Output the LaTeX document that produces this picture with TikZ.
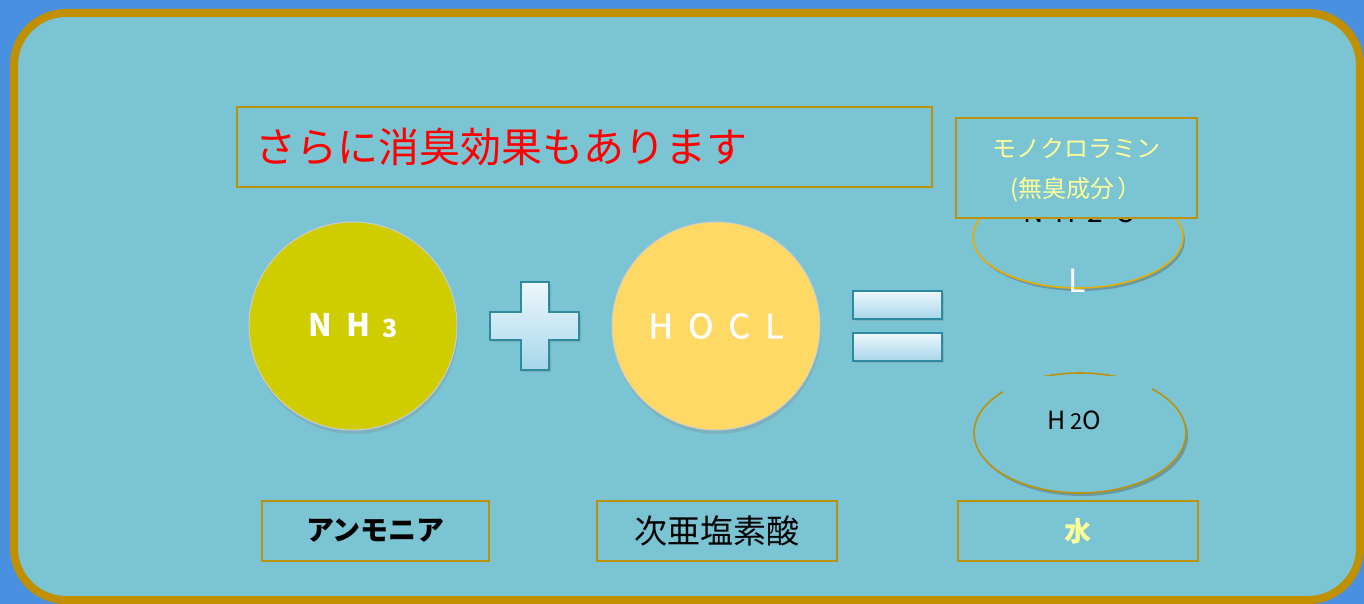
\documentclass[tikz,border=0pt]{standalone}
\usepackage{fontspec}
\setmainfont{Noto Sans CJK JP}
\newfontfamily\semibold[FakeBold=1.2]{Noto Sans CJK JP}
\usetikzlibrary{shadows,shapes.geometric}
\definecolor{outerblue}{HTML}{4A90E0}
\definecolor{panelfill}{HTML}{7AC4D4}
\definecolor{panelborder}{HTML}{C09000}
\definecolor{boxborder}{HTML}{BC920C}
\definecolor{nhfill}{HTML}{CFCC00}
\definecolor{hoclfill}{HTML}{FFD966}
\definecolor{ellline}{HTML}{E6AE00}
\definecolor{paleyellow}{HTML}{FFFF99}
\definecolor{symborder}{HTML}{2E8A9E}
\definecolor{symtop}{HTML}{EEF8FC}
\definecolor{symbot}{HTML}{A6D6EA}
\tikzset{
  labelbox/.style={draw=boxborder, line width=2pt, fill=panelfill, inner sep=0pt},
  molecule/.style={circle, fill=#1, draw=black!20, line width=1pt, minimum size=208pt, inner sep=0pt,
    drop shadow={opacity=0.25, shadow xshift=1pt, shadow yshift=-4pt},
    text=white},
  oval/.style={ellipse, draw=#1, fill=panelfill, line width=1.6pt,
    drop shadow={opacity=0.35, shadow xshift=2pt, shadow yshift=-3pt, fill=black!70}},
  symbol/.style={draw=symborder, line width=1.8pt, top color=symtop, bottom color=symbot,
    drop shadow={opacity=0.3, shadow xshift=2pt, shadow yshift=-2pt}},
}
\begin{document}
\begin{tikzpicture}[x=1pt,y=-1pt]
\useasboundingbox (0,0) rectangle (1364,604);
\fill[outerblue] (0,0) rectangle (1364,604);
% panel
\draw[panelborder, line width=8pt, fill=panelfill, rounded corners=52pt]
  (14,13) rectangle (1360,600);
% title
\node[labelbox, minimum width=695pt, minimum height=80pt, anchor=north west] (title) at (236,106) {};
\node[anchor=west, text=red, font=\fontsize{41}{45}\selectfont, inner sep=0pt] (titletext) at (255,147) {さらに消臭効果もあります};
% molecules
\node[molecule=nhfill, font=\fontsize{31}{33}\selectfont\bfseries] (nh3) at (353,326) {N\hspace{14pt}H\hspace{12pt}\raisebox{-1pt}{\fontsize{25}{27}\selectfont 3}};
\node[molecule=hoclfill, font=\semibold\fontsize{34}{36}\selectfont] (hocl) at (716,326) {H\hspace{15pt}O\hspace{15pt}C\hspace{15pt}L};
% plus
\path[symbol] (521,282) -- (549,282) -- (549,312) -- (579,312) -- (579,340) -- (549,340) -- (549,370) -- (521,370) -- (521,340) -- (490,340) -- (490,312) -- (521,312) -- cycle;
% equals
\path[symbol] (853,291) rectangle (942,319);
\path[symbol] (853,333) rectangle (942,361);
% NH2CL ellipse
\node[oval=ellline, minimum width=210pt, minimum height=102pt, inner sep=0pt] (nh2cl) at (1078,237) {};
\node[font=\fontsize{28}{30}\selectfont, text=black, inner sep=0pt] (nh2cltext) at (1078,212) {N\hspace{12pt}H\hspace{12pt}2\hspace{12pt}C};
\node[font=\fontsize{32}{34}\selectfont, text=white, inner sep=0pt] (nh2cll) at (1077,281) {L};
\node[labelbox, minimum width=241pt, minimum height=100pt, anchor=north west] (mono) at (955,117) {};
\node[text=paleyellow, font=\fontsize{24}{40}\selectfont, align=center, inner sep=0pt] (monotext) at (1076,170) {モノクロラミン\\(無臭成分\hspace{3pt}）};
% H2O ellipse
\node[oval=boxborder, minimum width=212pt, minimum height=120pt, inner sep=0pt] (h2o) at (1080,433) {};
\fill[panelfill] (1003,376) rectangle (1152,398);
\node[font=\fontsize{25}{27}\selectfont, text=black] (h2otext) at (1074,420) {H\hspace{5pt}{\fontsize{22}{24}\selectfont 2}O};
% bottom labels
\node[labelbox, minimum width=227pt, minimum height=60pt, anchor=north west] (ammbox) at (261,500) {};
\node[font=\fontsize{28}{30}\selectfont\bfseries] (amm) at (ammbox.center) {アンモニア};
\node[labelbox, minimum width=240pt, minimum height=60pt, anchor=north west] (hypobox) at (596,500) {};
\node[font=\fontsize{33}{35}\selectfont] (hypo) at (hypobox.center) {次亜塩素酸};
\node[labelbox, minimum width=240pt, minimum height=60pt, anchor=north west] (waterbox) at (957,500) {};
\node[font=\fontsize{27}{30}\selectfont\bfseries, text=paleyellow] (water) at (waterbox.center) {水};
\end{tikzpicture}
\end{document}
